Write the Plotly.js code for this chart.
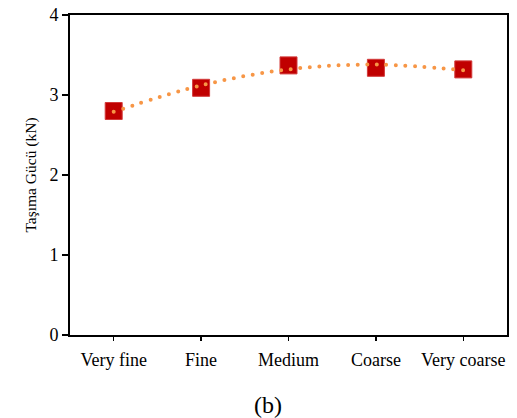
<!DOCTYPE html>
<html>
<head>
<meta charset="utf-8">
<script src="https://cdn.plot.ly/plotly-3.0.1.min.js"></script>
<style>html,body{margin:0;padding:0;background:#fff;}</style>
</head>
<body>
<div id="chart" style="width:517px;height:418px;"></div>
<script>
var categories = ["Very fine", "Fine", "Medium", "Coarse", "Very coarse"];
var capacity = [2.80, 3.09, 3.37, 3.34, 3.32];
var trendValues = [2.79, 3.12, 3.32, 3.38, 3.31];
var yTicks = [0, 1, 2, 3, 4];

var font = "'Liberation Serif', 'Times New Roman', serif";

var traces = [
  {
    x: categories, y: capacity, type: "scatter", mode: "markers",
    marker: {symbol: "square", size: 17, color: "#C00000", line: {color: "#D23A3A", width: 1}},
    showlegend: false, hoverinfo: "skip"
  },
  {
    x: categories, y: trendValues, type: "scatter", mode: "lines",
    line: {shape: "spline", smoothing: 1, color: "#F79646", width: 4, dash: "0px,9.6px"},
    showlegend: false, hoverinfo: "skip"
  }
];

var layout = {
  width: 517, height: 418,
  margin: {l: 70, r: 10, t: 15, b: 83},
  paper_bgcolor: "#fff", plot_bgcolor: "#fff",
  font: {family: font, color: "#000", size: 18},
  xaxis: {
    type: "category", range: [-0.5, 4.5],
    showline: true, linecolor: "#000", linewidth: 2, mirror: true,
    ticks: "outside", ticklen: 4, tickwidth: 1.5, tickcolor: "#000",
    showgrid: false, zeroline: false,
    tickfont: {family: font, size: 18, color: "#000"},
    ticklabelstandoff: 3
  },
  yaxis: {
    range: [0, 4], tickvals: yTicks,
    showline: true, linecolor: "#000", linewidth: 2, mirror: true,
    ticks: "outside", ticklen: 6, tickwidth: 1.5, tickcolor: "#000",
    showgrid: false, zeroline: false,
    tickfont: {family: font, size: 18, color: "#000"},
    title: {text: "Taşıma Gücü (kN)", font: {family: font, size: 15.5, color: "#000"}, standoff: 9}
  },
  annotations: [{
    text: "(b)", xref: "paper", yref: "paper", x: 0.453, y: -0.219,
    xanchor: "center", yanchor: "middle", showarrow: false,
    font: {family: font, size: 24, color: "#000"}
  }]
};

Plotly.newPlot("chart", traces, layout, {staticPlot: true}).then(function () {
  var paths = document.querySelectorAll("#chart .scatterlayer .js-line");
  paths.forEach(function (p) { p.style.strokeLinecap = "round"; });
});
</script>
</body>
</html>
